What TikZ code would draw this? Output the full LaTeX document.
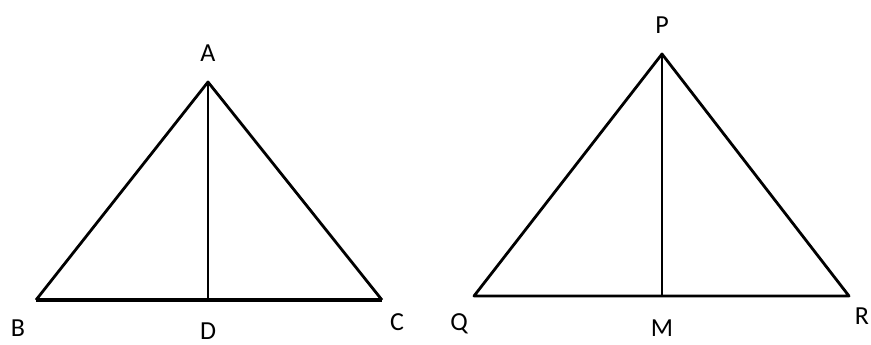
\documentclass[tikz,border=0pt]{standalone}
\usepackage{fontspec}
\setmainfont{Carlito}
\usetikzlibrary{positioning,calc}

\tikzset{
  side/.style={line width=2.8pt, line join=round},
  median/.style={line width=1.4pt},
  vlabel/.style={font=\fontsize{26}{30}\selectfont, inner sep=0pt}
}

\begin{document}
\begin{tikzpicture}[x=1pt, y=-1pt]
    \useasboundingbox (0,0) rectangle (871,345);

    % Triangle ABC
    \coordinate (A) at (208,82);
    \coordinate (B) at (36,300);
    \coordinate (C) at (382,300);
    \coordinate (D) at (208,300);
    \draw[side] (B) -- (A) -- (C);
    \draw[side, line width=3.6pt] (B) -- (C);
    \draw[median] (A) -- (D);

    % Triangle PQR
    \coordinate (P) at (662,54);
    \coordinate (Q) at (474,296);
    \coordinate (R) at (849,296);
    \coordinate (M) at (662,296);
    \draw[side] (Q) -- (P) -- (R) -- cycle;
    \draw[median] (P) -- (M);

    % Labels
    \node[vlabel] (lA) at (208,53) {A};
    \node[vlabel] (lB) at (18,328) {B};
    \node[vlabel] (lD) at (208,331) {D};
    \node[vlabel] (lC) at (397,322) {C};
    \node[vlabel] (lP) at (662,25) {P};
    \node[vlabel] (lQ) at (459,324) {Q};
    \node[vlabel] (lM) at (662,328) {M};
    \node[vlabel] (lR) at (862,316) {R};
\end{tikzpicture}
\end{document}
